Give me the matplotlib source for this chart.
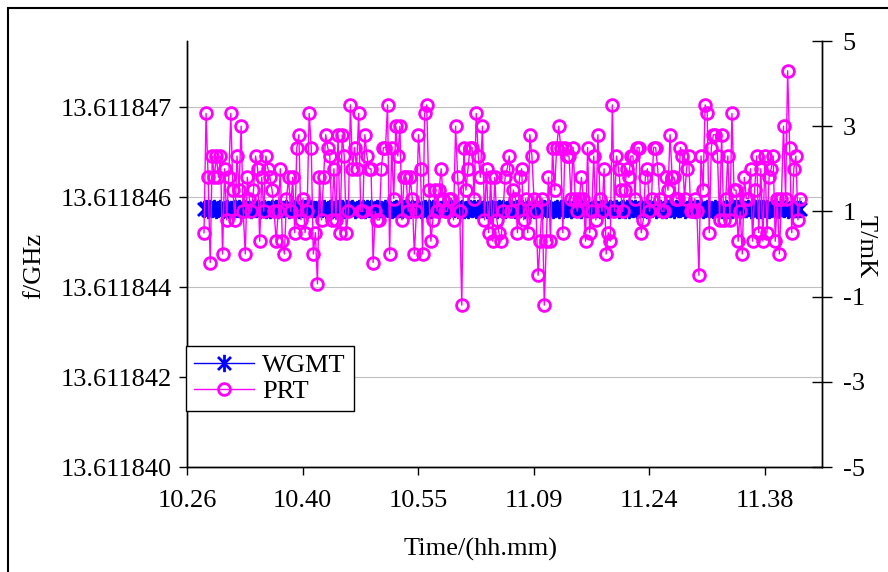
import matplotlib
matplotlib.use("Agg")
import matplotlib.pyplot as plt
import numpy as np
from matplotlib.path import Path
from matplotlib.patches import Rectangle
from matplotlib.ticker import FormatStrFormatter, FixedLocator

plt.rcParams['font.family'] = ['Liberation Serif', 'DejaVu Serif']
plt.rcParams['axes.unicode_minus'] = False

# ---------------- data ----------------
F0_GHZ = 13.611840
# PRT temperature (mK), right axis
prt_mk = [
    0.5, 3.3, 1.8, -0.2, 2.3, 1.8, 2.3, 1.8, 2.3, 0.0, 2.0, 0.8, 1.8, 3.3, 1.5, 0.8, 2.3, 1.5, 3.0, 1.0,
    0.0, 1.8, 1.3, 1.0, 1.5, 2.3, 2.0, 0.3, 1.8, 1.0,
    2.3, 2.0, 1.8, 1.5, 1.0, 0.3, 1.0, 2.0, 0.3, 0.0, 1.3, 1.8, 1.0, 1.8, 0.5, 2.5, 2.8, 0.8, 1.3, 0.5,
    1.0, 3.3, 2.5, 0.0, 0.5, -0.7, 1.8, 0.8, 1.8, 2.8, 2.5, 2.3, 0.8, 2.0, 0.8, 2.8, 0.5,
    2.8, 2.3, 0.5, 1.0, 3.5, 2.0, 2.5, 2.0, 3.3, 1.0, 1.0, 2.8, 2.3, 2.0, 2.0, -0.2, 1.0, 0.8, 0.8, 2.0,
    2.5, 2.5, 3.5, 0.0, 2.5, 1.3, 3.0, 2.3, 3.0, 0.8, 1.8, 1.8, 1.0, 1.8, 1.3, 0.0, 1.0, 2.8,
    2.0, 0.0, 3.3, 3.5, 1.5, 0.3, 0.8, 1.5, 1.0, 1.5, 2.0, 1.3, 1.0, 1.0, 1.3, 1.3, 0.8, 3.0, 1.8, 1.0,
    -1.2, 2.5, 1.5, 2.0, 2.5, 2.5, 1.3, 3.3, 2.3, 1.8, 3.0, 0.8, 2.0, 0.5, 1.8, 0.3, 1.8,
    0.8, 0.5, 0.3, 1.0, 1.8, 2.0, 2.3, 1.0, 1.5, 1.3, 0.5, 1.8, 2.0, 0.8, 1.3, 0.5, 2.8, 2.3, 1.3, 1.0,
    -0.5, 0.3, 1.3, -1.2, 0.3, 1.8, 0.3, 2.5, 1.5, 2.5, 3.0, 2.5, 0.5, 2.5, 2.3, 2.3, 1.3, 2.5,
    1.3, 1.0, 1.3, 1.8, 1.3, 0.3, 2.5, 0.5, 1.0, 2.3, 0.8, 2.8, 1.3, 1.0, 2.0, 0.0, 0.5, 0.3, 3.5, 1.0,
    2.3, 2.0, 1.5, 1.0, 1.5, 2.0, 1.8, 2.3, 2.3, 1.3, 2.5, 2.5, 0.5, 0.8, 1.8, 2.0, 1.0,
    1.3, 2.5, 2.5, 2.0, 1.3, 1.0, 1.0, 1.8, 1.5, 2.8, 1.8, 1.8, 1.3, 1.3, 2.5, 2.3, 1.3, 2.0, 2.3, 1.0,
    1.0, 1.3, 1.0, -0.5, 2.3, 1.5, 3.5, 3.3, 0.5, 2.5, 2.8, 2.8, 2.3, 0.8, 2.8, 0.8, 1.3, 2.3,
    0.8, 3.3, 1.5, 1.5, 0.3, 1.0, 0.0, 1.8, 1.3, 1.3, 2.0, 0.3, 1.5, 2.3, 0.5, 2.0, 0.3, 2.3, 0.5, 1.8,
    2.0, 2.3, 0.3, 1.3, 0.0, 1.3, 3.0, 1.3, 4.3, 2.5, 0.5, 2.0, 2.3, 0.8, 1.3, 1.3, -0.2, 0.8, 1.3, 2.0,
    0.8, 1.8,
]
# WGMT frequency offset from F0 (Hz), left axis
wgmt_offset_hz = [
    5360, 5385, 5340, 5372, 5355, 5390, 5348, 5366, 5378, 5335, 5362, 5381, 5350, 5369, 5344, 5387,
    5358, 5376, 5339, 5364, 5383, 5352, 5370, 5346, 5388, 5357, 5373, 5341, 5365, 5380, 5349, 5368,
    5336, 5384, 5361, 5374, 5345, 5389, 5353, 5367, 5379, 5338, 5363, 5386, 5351, 5371, 5343, 5382,
    5359, 5375, 5337, 5366, 5388, 5354, 5369, 5347, 5385, 5356, 5372, 5342, 5364, 5381, 5350, 5367,
    5339, 5383, 5362, 5376, 5344, 5390, 5352, 5368, 5378, 5336, 5361, 5387, 5349, 5373, 5345, 5380,
    5358, 5374, 5340, 5365, 5386, 5353, 5370, 5348, 5384, 5355, 5371, 5343, 5363, 5382, 5351, 5369,
    5337, 5385, 5360, 5377, 5346, 5388, 5354, 5366, 5379, 5339, 5362, 5383, 5350, 5372, 5344, 5381,
    5357, 5375, 5341, 5367, 5387, 5352, 5369, 5347, 5386, 5356, 5373, 5342, 5364, 5380, 5349, 5368,
    5338, 5384, 5361, 5376, 5345, 5389, 5353, 5367, 5378, 5336, 5363, 5385, 5351, 5371, 5343, 5382,
    5359, 5374, 5340, 5366, 5388, 5355, 5370, 5346, 5385, 5357, 5372, 5344, 5365, 5381, 5350, 5368,
    5339, 5383, 5362, 5377, 5347, 5390, 5352, 5367, 5379, 5337, 5361, 5386, 5349, 5373, 5345, 5380,
    5358, 5375, 5341, 5364, 5387, 5354, 5369, 5348, 5384, 5356, 5371, 5343, 5363, 5382, 5351, 5369,
    5338, 5385, 5360, 5376, 5346, 5388, 5353, 5366, 5378, 5336, 5362, 5384, 5350, 5372, 5344, 5381,
    5357, 5374, 5342, 5367, 5386, 5352, 5370, 5347, 5385, 5355, 5373, 5341, 5365, 5380, 5349, 5368,
    5339, 5383, 5361, 5377, 5345, 5389, 5354, 5367, 5379, 5337, 5363, 5385, 5351, 5371, 5343, 5382,
    5358, 5375, 5340, 5366, 5387, 5353, 5369, 5348, 5384, 5356, 5372, 5344, 5364, 5381, 5350, 5368,
    5338, 5384, 5362, 5376, 5346, 5388, 5352, 5367, 5378, 5336, 5361, 5386, 5349, 5373, 5345, 5380,
    5359, 5374, 5341, 5365, 5387, 5355, 5370, 5347, 5385,
    5357, 5372, 5343, 5363, 5382, 5351, 5369, 5360, 5366,
]
time_labels = ['10.26', '10.40', '10.55', '11.09', '11.24', '11.38']
freq_tick_step_khz = 1.87  # spacing of left-axis ticks (kHz)

n = min(len(prt_mk), len(wgmt_offset_hz))
prt = np.array(prt_mk[:n])
wgmt = F0_GHZ + np.array(wgmt_offset_hz[:n]) * 1e-9
idx = np.arange(n)

# ---------------- figure ----------------
W, H = 888, 572
fig = plt.figure(figsize=(W / 100, H / 100), dpi=100)
L, R, T, B = 187, 822, 41, 467
ax = fig.add_axes([L / W, 1 - B / H, (R - L) / W, (B - T) / H])
ax2 = ax.twinx()

px_per_pt = (800 - 204) / (n - 1)
x0 = -(204 - L) / px_per_pt
x1 = (R - 204) / px_per_pt
ax.set_xlim(x0, x1)
tick_step = 115.6 / px_per_pt
xticks = [x0 + k * tick_step for k in range(len(time_labels))]
ax.xaxis.set_major_locator(FixedLocator(xticks))
ax.set_xticklabels(time_labels)

step = freq_tick_step_khz * 1e-6
ymin = F0_GHZ
ymax = F0_GHZ + (B - T) / 90.0 * step
ax.set_ylim(ymin, ymax)
ax.yaxis.set_major_locator(FixedLocator([F0_GHZ + k * step for k in range(5)]))
ax.yaxis.set_major_formatter(FormatStrFormatter('%.6f'))
ax.grid(axis='y', color='#c0c0c0', lw=0.8)
ax.set_axisbelow(True)

ax2.set_ylim(-5, 5)
ax2.set_yticks([-5, -3, -1, 1, 3, 5])
ax2.set_xlim(x0, x1)

d = 0.75
ast = Path([(0, -1), (0, 1), (-d, -d), (d, d), (-d, d), (d, -d)],
           [Path.MOVETO, Path.LINETO, Path.MOVETO, Path.LINETO, Path.MOVETO, Path.LINETO])

l1, = ax.plot(idx, wgmt, color='#0000ff', lw=1.0, marker=ast, ms=12.5,
              mec='#0000ff', mfc='none', mew=2.0, label='WGMT')
l2, = ax2.plot(idx, prt, color='#ff00ff', lw=1.0, marker='o', ms=8.5,
               mec='#ff00ff', mfc='none', mew=2.0, label='PRT')

fs = 19
for a in (ax, ax2):
    for s in a.spines.values():
        s.set_linewidth(1.0)
        s.set_color('black')
    a.spines['top'].set_visible(False)
ax.tick_params(axis='y', direction='out', length=5.8, width=1, pad=5, labelsize=fs)
ax.tick_params(axis='x', direction='out', length=5.8, width=1, pad=11, labelsize=fs)
ax2.tick_params(axis='y', direction='inout', length=13.7, width=1, pad=8, labelsize=fs)

ax.set_xlabel('Time/(hh.mm)', fontsize=fs)
ax.xaxis.set_label_coords((481 - L) / (R - L), (B - 538) / (B - T))
ax.set_ylabel('f/GHz', fontsize=fs)
ax.yaxis.label.set_va('center')
ax.yaxis.set_label_coords((34 - L) / (R - L), (B - 266) / (B - T))
ax2.set_ylabel('T/mK', fontsize=fs, rotation=270)
ax2.yaxis.label.set_va('center')
ax2.yaxis.set_label_coords((866 - L) / (R - L), (B - 247) / (B - T))

leg = ax2.legend(handles=[l1, l2], loc='upper left',
                 bbox_to_anchor=(-0.002, (B - 346) / (B - T)), borderaxespad=0,
                 fontsize=fs, frameon=True, fancybox=False, framealpha=1,
                 edgecolor='black', handlelength=2.3, handletextpad=0.3,
                 borderpad=0.3, labelspacing=0.1)
leg.get_frame().set_linewidth(1.0)

fig.add_artist(Rectangle((8 / W, -0.5), 2, 0.5 + 1 - 8 / H, transform=fig.transFigure,
                         fill=False, ec='black', lw=1.5))

fig.savefig('out.png', dpi=100)
